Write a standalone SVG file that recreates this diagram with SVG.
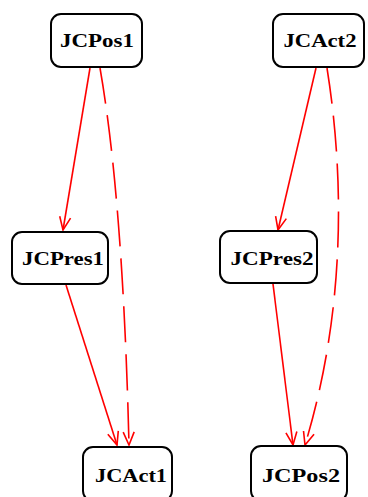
<svg xmlns="http://www.w3.org/2000/svg" width="368" height="497" viewBox="0 0 368 497">
<style>
.node rect{fill:#fff;stroke:#000;stroke-width:2}
.node text{font-family:"Liberation Serif","Times New Roman",serif;font-weight:bold;font-size:19px;text-anchor:middle;fill:#000}
.edge{fill:none;stroke:#ff0000;stroke-width:1.6}
.dash{stroke-dasharray:36 12}
</style>
<defs>
<marker id="arr" markerWidth="16" markerHeight="14" refX="14" refY="7" orient="auto" markerUnits="userSpaceOnUse">
<path d="M1,1.5 L14,7 L1,12.5" fill="none" stroke="#ff0000" stroke-width="1.6"/>
</marker>
</defs>
<g id="edges">
<path class="edge" d="M90,68 L63,230" marker-end="url(#arr)"/>
<path class="edge dash" d="M100,68 Q123,200 129,445" marker-end="url(#arr)"/>
<path class="edge" d="M66,285 L117,445" marker-end="url(#arr)"/>
<path class="edge" d="M316,68 L278,230" marker-end="url(#arr)"/>
<path class="edge dash" d="M327,68 C348,200 340,330 305,445" marker-end="url(#arr)"/>
<path class="edge" d="M273,284 L293,445" marker-end="url(#arr)"/>
</g>
<g id="JCPos1" class="node"><rect x="51" y="14" width="91" height="53" rx="10"/><text x="97" y="47" textLength="74" lengthAdjust="spacingAndGlyphs">JCPos1</text></g>
<g id="JCAct2" class="node"><rect x="273" y="14" width="91" height="53" rx="10"/><text x="320" y="47" textLength="73" lengthAdjust="spacingAndGlyphs">JCAct2</text></g>
<g id="JCPres1" class="node"><rect x="12" y="232" width="96" height="52" rx="10"/><text x="63" y="265" textLength="82" lengthAdjust="spacingAndGlyphs">JCPres1</text></g>
<g id="JCPres2" class="node"><rect x="220" y="231" width="97" height="52" rx="10"/><text x="272" y="265" textLength="83" lengthAdjust="spacingAndGlyphs">JCPres2</text></g>
<g id="JCAct1" class="node"><rect x="83" y="447" width="89" height="54" rx="10"/><text x="131" y="482" textLength="72" lengthAdjust="spacingAndGlyphs">JCAct1</text></g>
<g id="JCPos2" class="node"><rect x="251" y="446" width="96" height="55" rx="10"/><text x="301" y="482" textLength="78" lengthAdjust="spacingAndGlyphs">JCPos2</text></g>
</svg>
